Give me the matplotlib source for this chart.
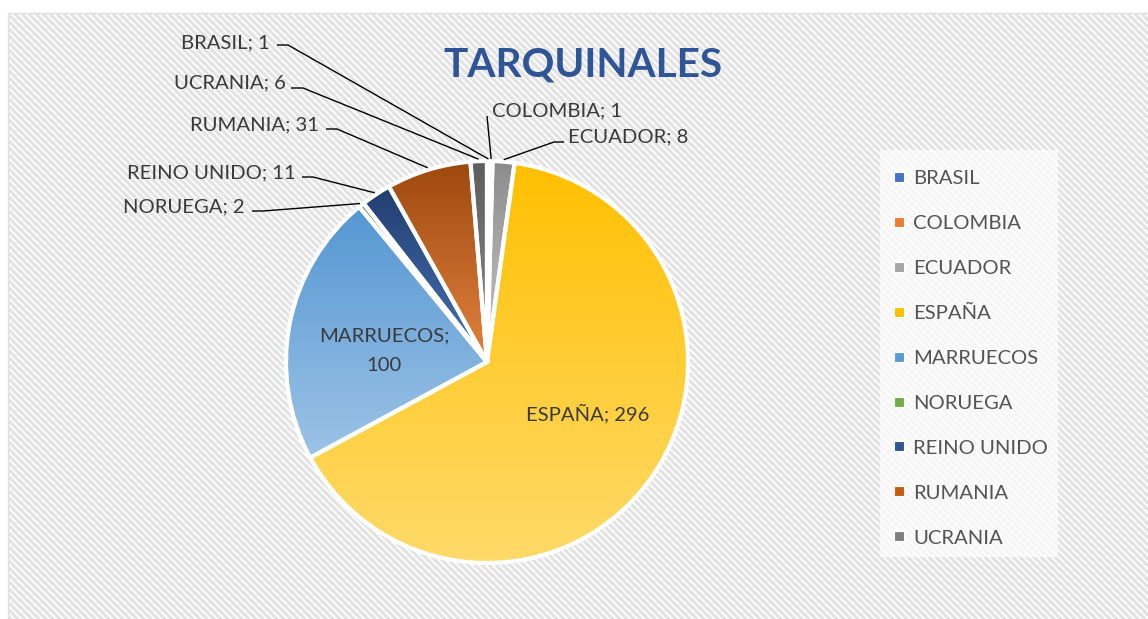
import numpy as np
import matplotlib
matplotlib.use('Agg')
import matplotlib.pyplot as plt
from matplotlib.colors import to_rgb
from matplotlib.collections import LineCollection
from matplotlib.patches import Rectangle

# ---------------- data ----------------
categories = ['BRASIL', 'COLOMBIA', 'ECUADOR', 'ESPAÑA', 'MARRUECOS',
              'NORUEGA', 'REINO UNIDO', 'RUMANIA', 'UCRANIA']
values = [1, 1, 8, 296, 100, 2, 11, 31, 6]
title = 'TARQUINALES'

# ---------------- style ----------------
top_colors = ['#2F5597', '#C55A11', '#8C8C8C', '#FFC000', '#5597D3',
              '#548235', '#223E70', '#9E480E', '#5E5E5E']
bottom_colors = ['#8FAADC', '#F4B183', '#C9C9C9', '#FFDA6A', '#9DC3E6',
                 '#A9D18E', '#4A72B8', '#E2823F', '#8C8C8C']
legend_colors = ['#4472C4', '#ED7D31', '#A5A5A5', '#FFC000', '#5B9BD5',
                 '#70AD47', '#2F5597', '#C55A11', '#7F7F7F']
FONT = 'Lato'
LABEL_COLOR = '#3a3a3a'
LEGEND_COLOR = '#545454'

W, H = 1148, 619
fig = plt.figure(figsize=(W / 100, H / 100), dpi=100)
ax = fig.add_axes([0, 0, 1, 1])


def py(y):
    return H - y


# background with diagonal stripes
bg = Rectangle((7.5, -20), W + 20, py(12.5) + 20, facecolor='white',
               edgecolor='#d9d9d9', lw=1.0, zorder=0)
ax.add_patch(bg)
segs = []
for k in np.arange(-10, W + H + 10, 7.0):
    segs.append([(k - (H + 5), H + 5), (k + 5, -5)])
stripes = LineCollection(segs, colors='#e3e3e3', linewidths=2.3, zorder=0.5)
ax.add_collection(stripes)
stripes.set_clip_path(bg)

# pie
cx, cy, R = 487, py(362), 201
wedges, _ = ax.pie(values, center=(cx, cy), radius=R, startangle=90,
                   counterclock=False, colors=legend_colors,
                   wedgeprops=dict(linewidth=3, edgecolor='white'))
for i, w in enumerate(wedges):
    w.set_zorder(2)
    ext = w.get_path().get_extents()
    t = np.array(to_rgb(top_colors[i]))
    b = np.array(to_rgb(bottom_colors[i]))
    f = np.linspace(0, 1, 256)[:, None]
    grad = (b * (1 - f) + t * f)[:, None, :]
    im = ax.imshow(grad, extent=[ext.x0, ext.x1, ext.y0, ext.y1],
                   origin='lower', aspect='auto', zorder=1.5,
                   interpolation='bilinear')
    im.set_clip_path(w)
    w.set_facecolor('none')

ax.set_aspect('auto')
ax.set_xlim(0, W)
ax.set_ylim(0, H)
ax.axis('off')

# leader geometry from the data
vals = np.array(values, dtype=float)
cum = np.cumsum(vals)
mid = (cum - vals / 2) / vals.sum() * 2 * np.pi


def edge_point(i, f=1.01):
    return cx + R * f * np.sin(mid[i]), cy + R * f * np.cos(mid[i])


# outside labels: (index, text x, baseline y, ha, leader polyline start points)
outside = [
    (0, 270, 48, 'right', [(277, 45), (288, 45)]),
    (8, 286, 88, 'right', [(291, 88), (303, 88)]),
    (7, 319, 130, 'right', [(326, 129), (337, 129)]),
    (6, 296, 178, 'right', [(302, 177), (313, 177)]),
    (5, 245, 212, 'right', [(252, 211), (263, 211)]),
    (1, 492, 116, 'left', [(487, 116)]),
    (2, 568, 142, 'left', [(564, 142), (554, 142)]),
]
for i, tx, by, ha, pts in outside:
    ax.text(tx, py(by), f'{categories[i]}; {values[i]}', ha=ha, va='baseline',
            fontsize=14.6, family=FONT, color=LABEL_COLOR, zorder=3)
    ex, ey = edge_point(i)
    xs = [p[0] for p in pts] + [ex]
    ys = [py(p[1]) for p in pts] + [ey]
    ax.plot(xs, ys, color='black', lw=1.0, zorder=3, solid_capstyle='butt')

# inside labels
ax.text(384, py(341), f'{categories[4]};', ha='center', va='baseline',
        fontsize=14.6, family=FONT, color=LABEL_COLOR, zorder=3)
ax.text(384, py(371), f'{values[4]}', ha='center', va='baseline',
        fontsize=14.6, family=FONT, color=LABEL_COLOR, zorder=3)
ax.text(588, py(420), f'{categories[3]}; {values[3]}', ha='center',
        va='baseline', fontsize=14.6, family=FONT, color=LABEL_COLOR, zorder=3)

# title
ax.text(583, py(77), title, ha='center', va='baseline', fontsize=29.2,
        fontweight='bold', family=FONT, color='#2F5597', zorder=3)

# legend
ax.add_patch(Rectangle((880, py(557)), 178, 407, facecolor='white',
                       edgecolor='none', alpha=0.7, zorder=1))
for i, cat in enumerate(categories):
    yc = 177 + 44.9 * i
    ax.add_patch(Rectangle((894, py(yc) - 5), 10, 10,
                           facecolor=legend_colors[i], edgecolor='white',
                           lw=0.8, zorder=3))
    ax.text(913, py(yc + 7.5), cat, ha='left', va='baseline', fontsize=14.6,
            family=FONT, color=LEGEND_COLOR, zorder=3)

fig.savefig('out.png', dpi=100)
